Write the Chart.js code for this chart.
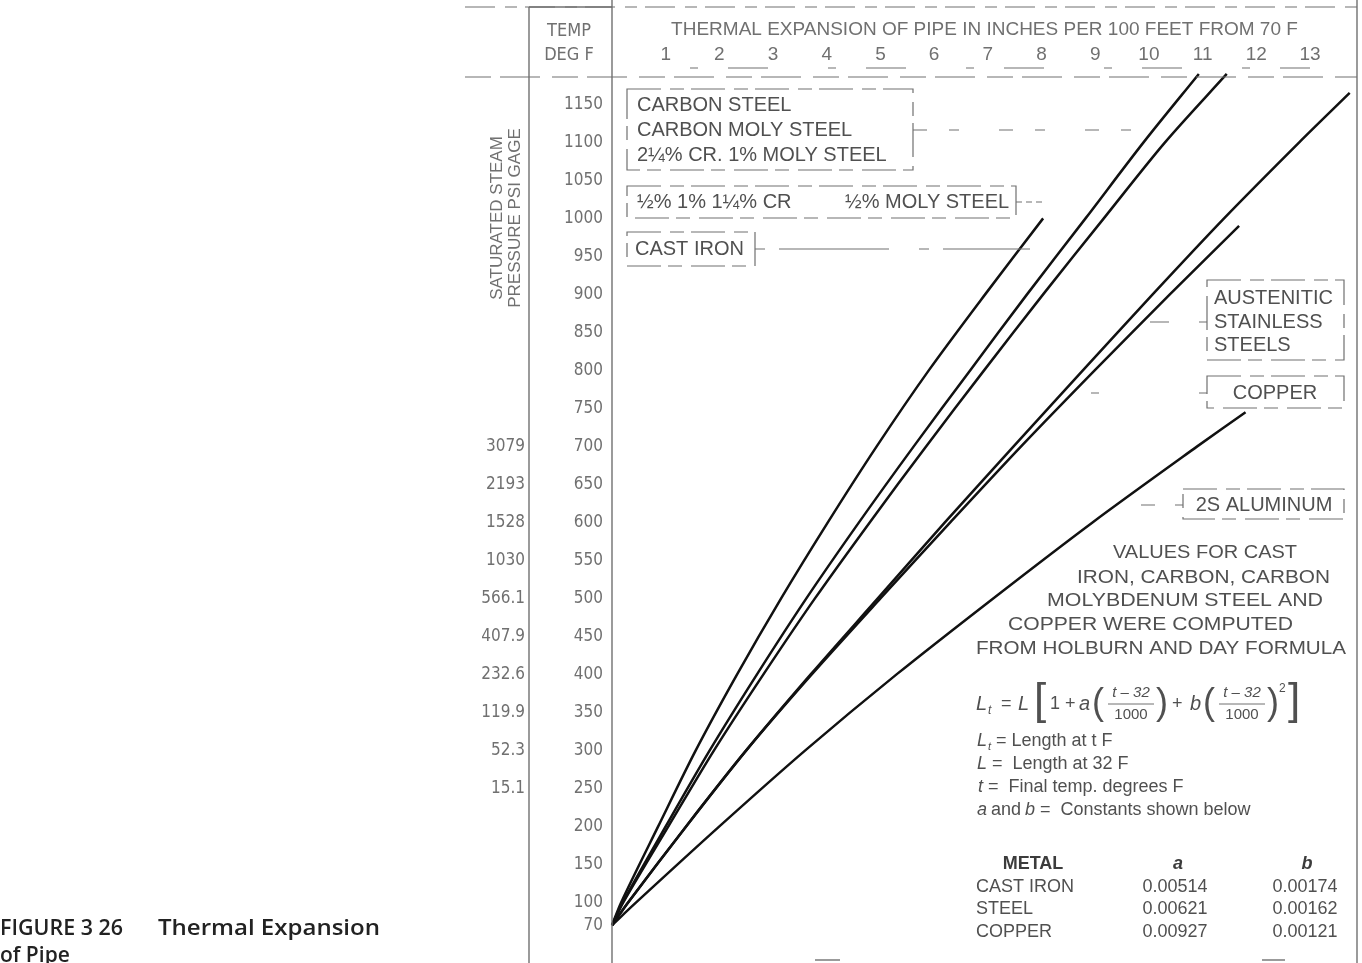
<!DOCTYPE html>
<html>
<head>
<meta charset="utf-8">
<script src="https://cdn.jsdelivr.net/npm/chart.js@4.4.1/dist/chart.umd.min.js"></script>
<style>
  html, body { margin: 0; padding: 0; background: #fff; overflow: hidden; }
  #wrap { position: relative; width: 1362px; height: 963px; }
</style>
</head>
<body>
<div id="wrap"><canvas id="expansion-chart"></canvas></div>
<script>
// Axis ticks
const tempTicks = [70, 100, 150, 200, 250, 300, 350, 400, 450, 500, 550, 600, 650, 700, 750, 800, 850, 900, 950, 1000, 1050, 1100, 1150];
const expTicks = [1, 2, 3, 4, 5, 6, 7, 8, 9, 10, 11, 12, 13];
const pressureTemps = [250, 300, 350, 400, 450, 500, 550, 600, 650, 700];
const pressureLabels = ['15.1', '52.3', '119.9', '232.6', '407.9', '566.1', '1030', '1528', '2193', '3079'];

// Curves: temperature (deg F) -> expansion (in per 100 ft)
const castIronTemp = [70, 100, 200, 300, 400, 500, 600, 700, 800, 900, 1000];
const castIronExp  = [0, 0.17, 0.86, 1.56, 2.33, 3.15, 4.02, 4.93, 5.90, 6.95, 8.03];

const carbonTemp = [70, 100, 200, 300, 400, 500, 600, 700, 800, 900, 1000, 1100, 1190];
const carbonExp  = [0, 0.2, 1.0, 1.82, 2.7, 3.62, 4.6, 5.62, 6.67, 7.73, 8.82, 9.9, 10.93];

const crMolyTemp = [70, 100, 200, 300, 400, 500, 600, 700, 800, 900, 1000, 1100, 1190];
const crMolyExp  = [0, 0.21, 1.05, 1.9, 2.82, 3.78, 4.8, 5.85, 6.93, 8.03, 9.16, 10.3, 11.45];

const austeniticTemp = [70, 100, 200, 300, 400, 500, 600, 700, 800, 900, 1000, 1100, 1165];
const austeniticExp  = [0, 0.3, 1.38, 2.5, 3.7, 4.95, 6.2, 7.48, 8.77, 10.07, 11.4, 12.8, 13.74];

const copperTemp = [70, 100, 200, 300, 400, 500, 600, 700, 800, 900, 990];
const copperExp  = [0, 0.3, 1.38, 2.5, 3.72, 5.0, 6.3, 7.62, 8.99, 10.39, 11.68];

const aluminumTemp = [70, 100, 200, 300, 400, 500, 600, 700, 745];
const aluminumExp  = [0, 0.45, 2.0, 3.6, 5.3, 7.1, 8.95, 10.9, 11.8];

// Constants table
const metalNames = ['CAST IRON', 'STEEL', 'COPPER'];
const constA = ['0.00514', '0.00621', '0.00927'];
const constB = ['0.00174', '0.00162', '0.00121'];

const GRAY = '#707070';
const TXT = '#505050';
const NARROW = "'Liberation Sans Narrow', 'DejaVu Sans Condensed', 'Liberation Sans', sans-serif";
const SANS = "'Liberation Sans', Arial, sans-serif";
const CAPTION = "'Open Sans', 'Noto Sans', sans-serif";

const toPoints = (temps, exps) => temps.map((t, i) => ({ x: exps[i], y: t }));

const curve = (label, temps, exps) => ({
    label: label,
    data: toPoints(temps, exps),
    borderColor: '#111',
    borderWidth: 2.5,
    pointRadius: 0,
    tension: 0.3,
    fill: false,
    clip: false
});

// Drawing helpers for the scanned-figure decorations
function seg(ctx, x1, y1, x2, y2, dash, w) {
    ctx.save();
    ctx.strokeStyle = GRAY;
    ctx.lineWidth = w || 1.2;
    ctx.setLineDash(dash || []);
    ctx.beginPath();
    ctx.moveTo(x1, y1);
    ctx.lineTo(x2, y2);
    ctx.stroke();
    ctx.restore();
}

function txt(ctx, s, x, y, font, align, color) {
    ctx.save();
    ctx.font = font;
    ctx.fillStyle = color || TXT;
    ctx.textAlign = align || 'left';
    ctx.textBaseline = 'middle';
    ctx.fillText(s, x, y);
    ctx.restore();
}

// text stretched to a given width (the scan's lettering is wide)
function fitTxt(ctx, s, x, y, font, width, color) {
    ctx.save();
    ctx.font = font;
    ctx.fillStyle = color || TXT;
    ctx.textBaseline = 'middle';
    const w = ctx.measureText(s).width;
    ctx.translate(x, y);
    ctx.scale(width / w, 1);
    ctx.fillText(s, 0, 0);
    ctx.restore();
}

function box(ctx, l, t, r, b) {
    ctx.save();
    ctx.strokeStyle = GRAY;
    ctx.lineWidth = 1.2;
    ctx.setLineDash([34, 9, 14, 7]);
    ctx.strokeRect(l, t, r - l, b - t);
    ctx.restore();
}

const decorations = {
    id: 'decorations',
    afterDraw(chart) {
        const ctx = chart.ctx;
        const area = chart.chartArea;
        const colLeft = 465, colMid = 529;

        // frame
        seg(ctx, colLeft, 7, area.right, 7, [30, 10, 12, 8]);
        seg(ctx, colMid, 7, area.left, 7, [], 1.3);
        seg(ctx, colLeft, area.top, area.right, area.top, [26, 9, 40, 12]);
        seg(ctx, 690, 68, 1310, 68, [8, 30, 40, 60]);
        seg(ctx, colMid, 7, colMid, 963, [], 1.4);
        seg(ctx, area.left, 0, area.left, 963, [], 1.4);
        seg(ctx, area.right, 0, area.right, 963, [], 1.4);
        seg(ctx, 815, 960, 840, 960, [], 1.4);
        seg(ctx, 1262, 960, 1285, 960, [], 1.4);

        // header of temp column
        txt(ctx, 'TEMP', 569, 31, '18px ' + NARROW, 'center', GRAY);
        txt(ctx, 'DEG F', 569, 55, '18px ' + NARROW, 'center', GRAY);

        // rotated pressure title
        ctx.save();
        ctx.translate(506, 218);
        ctx.rotate(-Math.PI / 2);
        txt(ctx, 'SATURATED STEAM', 0, -9, '17px ' + SANS, 'center', GRAY);
        txt(ctx, 'PRESSURE PSI GAGE', 0, 9, '17px ' + SANS, 'center', GRAY);
        ctx.restore();

        // material labels
        const F = '20px ' + SANS;
        box(ctx, 627, 89, 913, 170);
        txt(ctx, 'CARBON STEEL', 637, 105, F);
        txt(ctx, 'CARBON MOLY STEEL', 637, 130, F);
        txt(ctx, '2\u00BC% CR. 1% MOLY STEEL', 637, 155, F);
        seg(ctx, 913, 130, 1160, 130, [14, 22, 10, 40]);

        box(ctx, 627, 186, 1016, 218);
        txt(ctx, '\u00BD% 1% 1\u00BC% CR', 637, 202, F);
        txt(ctx, '\u00BD% MOLY STEEL', 845, 202, F);
        seg(ctx, 1016, 202, 1042, 202, [6, 4]);

        box(ctx, 627, 232, 755, 266);
        txt(ctx, 'CAST IRON', 635, 249, F);
        seg(ctx, 755, 249, 1030, 249, [10, 14, 110, 30]);

        box(ctx, 1207, 280, 1344, 360);
        txt(ctx, 'AUSTENITIC', 1214, 298, F);
        txt(ctx, 'STAINLESS', 1214, 322, F);
        txt(ctx, 'STEELS', 1214, 345, F);
        seg(ctx, 1207, 322, 1150, 322, [8, 30, 20, 40]);

        box(ctx, 1207, 376, 1344, 408);
        txt(ctx, 'COPPER', 1275, 393, F, 'center');
        seg(ctx, 1207, 393, 1090, 393, [8, 100]);

        box(ctx, 1183, 489, 1344, 519);
        txt(ctx, '2S ALUMINUM', 1264, 505, F, 'center');
        seg(ctx, 1183, 505, 1140, 505, [8, 20, 14, 30]);

        // notes
        const N = '18px ' + SANS;
        fitTxt(ctx, 'VALUES FOR CAST', 1113, 553, N, 184);
        fitTxt(ctx, 'IRON, CARBON, CARBON', 1077, 578, N, 253);
        fitTxt(ctx, 'MOLYBDENUM STEEL AND', 1047, 601, N, 276);
        fitTxt(ctx, 'COPPER WERE COMPUTED', 1008, 625, N, 285);
        fitTxt(ctx, 'FROM HOLBURN AND DAY FORMULA', 976, 649, N, 370);

        // formula
        const I = 'italic 20px ' + SANS;
        const S = '18px ' + SANS;
        const fy = 704;
        txt(ctx, 'L', 976, fy, I);
        txt(ctx, 't', 988, fy + 7, 'italic 12px ' + SANS);
        txt(ctx, '=', 1001, fy, S);
        txt(ctx, 'L', 1018, fy, I);
        txt(ctx, '[', 1034, fy - 2, '44px ' + SANS);
        txt(ctx, '1 +', 1050, fy, S);
        txt(ctx, 'a', 1079, fy, I);
        txt(ctx, '(', 1092, fy, '36px ' + SANS);
        txt(ctx, 't \u2013 32', 1131, fy - 11, 'italic 15px ' + SANS, 'center');
        seg(ctx, 1108, fy, 1154, fy, [], 1);
        txt(ctx, '1000', 1131, fy + 11, '15px ' + SANS, 'center');
        txt(ctx, ')', 1156, fy, '36px ' + SANS);
        txt(ctx, '+', 1172, fy, S);
        txt(ctx, 'b', 1190, fy, I);
        txt(ctx, '(', 1203, fy, '36px ' + SANS);
        txt(ctx, 't \u2013 32', 1242, fy - 11, 'italic 15px ' + SANS, 'center');
        seg(ctx, 1219, fy, 1265, fy, [], 1);
        txt(ctx, '1000', 1242, fy + 11, '15px ' + SANS, 'center');
        txt(ctx, ')', 1267, fy, '36px ' + SANS);
        txt(ctx, '2', 1279, fy - 15, '12px ' + SANS);
        txt(ctx, ']', 1288, fy - 2, '44px ' + SANS);

        const L = '18px ' + SANS;
        const LI = 'italic 18px ' + SANS;
        txt(ctx, 'L', 977, 741, LI);
        txt(ctx, 't', 988, 747, 'italic 11px ' + SANS);
        txt(ctx, '= Length at t F', 996, 741, L);
        txt(ctx, 'L', 977, 764, LI);
        txt(ctx, '=  Length at 32 F', 992, 764, L);
        txt(ctx, 't', 978, 787, LI);
        txt(ctx, '=  Final temp. degrees F', 988, 787, L);
        txt(ctx, 'a', 977, 810, LI);
        txt(ctx, 'and', 991, 810, L);
        txt(ctx, 'b', 1025, 810, LI);
        txt(ctx, '=  Constants shown below', 1040, 810, L);

        // constants table
        txt(ctx, 'METAL', 1033, 864, 'bold 18px ' + SANS, 'center', '#3c3c3c');
        txt(ctx, 'a', 1178, 864, 'bold italic 18px ' + SANS, 'center', '#3c3c3c');
        txt(ctx, 'b', 1307, 864, 'bold italic 18px ' + SANS, 'center', '#3c3c3c');
        metalNames.forEach((m, i) => {
            const ry = 887 + i * 22.5;
            txt(ctx, m, 976, ry, L);
            txt(ctx, constA[i], 1175, ry, L, 'center');
            txt(ctx, constB[i], 1305, ry, L, 'center');
        });

        // caption
        fitTxt(ctx, 'FIGURE 3 26', 0, 929, '600 21px ' + CAPTION, 123, '#222');
        fitTxt(ctx, 'Thermal Expansion', 158, 929, '600 21px ' + CAPTION, 222, '#222');
        txt(ctx, 'of Pipe', 0, 956, '600 21px ' + CAPTION, 'left', '#222');
    }
};

const dataExpansion = {
    datasets: [
        curve('Cast iron', castIronTemp, castIronExp),
        curve('Carbon steel', carbonTemp, carbonExp),
        curve('Cr moly steel', crMolyTemp, crMolyExp),
        curve('Austenitic stainless steels', austeniticTemp, austeniticExp),
        curve('Copper', copperTemp, copperExp),
        curve('2S aluminum', aluminumTemp, aluminumExp)
    ]
};

const optionsExpansion = {
    responsive: true,
    maintainAspectRatio: false,
    animation: false,
    devicePixelRatio: 1,
    layout: { padding: { left: 465, right: 5, top: 0, bottom: 0 } },
    scales: {
        x: {
            type: 'linear',
            position: 'top',
            min: 0,
            max: 13.876,
            afterBuildTicks: (scale) => { scale.ticks = expTicks.map(v => ({ value: v })); },
            afterFit: (scale) => { scale.height = 77; },
            grid: { display: false, drawTicks: false },
            border: { display: false },
            ticks: { color: GRAY, font: { family: SANS, size: 19 }, padding: 11, maxRotation: 0 },
            title: {
                display: true,
                text: 'THERMAL EXPANSION OF PIPE IN INCHES PER 100 FEET FROM 70 F',
                color: GRAY,
                font: { family: SANS, size: 19 },
                padding: { top: 18, bottom: 0 }
            }
        },
        y: {
            type: 'linear',
            position: 'left',
            min: 45.55,
            max: 1186.0,
            weight: 0,
            afterBuildTicks: (scale) => { scale.ticks = tempTicks.map(v => ({ value: v })); },
            afterFit: (scale) => { scale.width = 612 - 529; },
            grid: { display: false, drawTicks: false },
            border: { display: false },
            ticks: {
                color: GRAY,
                font: { family: NARROW, size: 17 },
                padding: 9,
                callback: (value) => String(value)
            }
        },
        y2: {
            type: 'linear',
            axis: 'y',
            position: 'left',
            min: 45.55,
            max: 1186.0,
            weight: 1,
            afterBuildTicks: (scale) => { scale.ticks = pressureTemps.map(v => ({ value: v })); },
            afterFit: (scale) => { scale.width = 529 - 465; },
            grid: { display: false, drawTicks: false },
            border: { display: false },
            ticks: {
                color: GRAY,
                font: { family: NARROW, size: 17 },
                padding: 4,
                callback: (value) => pressureLabels[pressureTemps.indexOf(value)]
            }
        }
    },
    plugins: {
        legend: { display: false },
        tooltip: { enabled: false }
    }
};

new Chart(document.querySelector('#expansion-chart'), {
    type: 'line',
    data: dataExpansion,
    options: optionsExpansion,
    plugins: [decorations]
});
</script>
</body>
</html>
